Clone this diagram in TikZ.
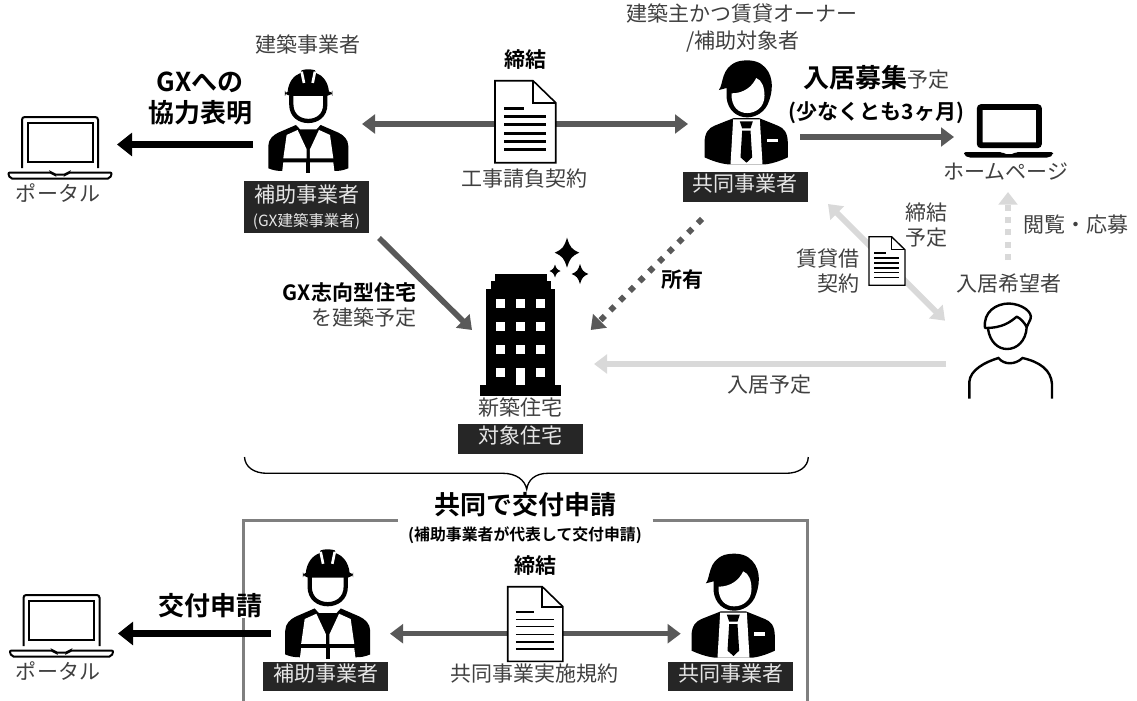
\documentclass[tikz,border=0pt]{standalone}
\usepackage{fontspec}
\setmainfont{Noto Sans CJK JP}[BoldFont={Noto Sans CJK JP Bold}]
\usetikzlibrary{arrows.meta,positioning}
\definecolor{txt}{HTML}{404040}
\definecolor{boxdark}{HTML}{262626}
\definecolor{boxtxt}{HTML}{E6E6E6}
\definecolor{arrowgray}{HTML}{595959}
\definecolor{arrowlight}{HTML}{D9D9D9}
\definecolor{framegray}{HTML}{7F7F7F}
\newcommand{\fsN}{\fontsize{15.75pt}{19pt}\selectfont}
\newcommand{\fsB}{\fontsize{19.5pt}{23pt}\selectfont\bfseries}
\newcommand{\fsM}{\fontsize{15.75pt}{19pt}\selectfont\bfseries}
\newcommand{\fsS}{\fontsize{11.6pt}{14pt}\selectfont}
\newcommand{\docicon}[5]{% x, y, scale, outline lw, text lw
  \begin{scope}[shift={(#1,#2)},scale=#3]
    \filldraw[fill=white,draw=black,line width=#4,line join=miter] (0,0) -- (38,0) -- (60.7,22) -- (60.7,82) -- (0,82) -- cycle;
    \draw[black,line width=#4] (38,0) -- (38,22) -- (60.7,22);
    \draw[black,line width=#5] (9,27.6) -- (29,27.6);
    \foreach \yy in {36,44,52.6,60.6,68.6}{\draw[black,line width=#5] (9,\yy) -- (51,\yy);}
  \end{scope}}
\newcommand{\sparkle}[4]{%
  \fill[black] (#1,#2-#4) .. controls (#1+.25*#3,#2-.35*#4) and (#1+.35*#3,#2-.25*#4) .. (#1+#3,#2)
   .. controls (#1+.35*#3,#2+.25*#4) and (#1+.25*#3,#2+.35*#4) .. (#1,#2+#4)
   .. controls (#1-.25*#3,#2+.35*#4) and (#1-.35*#3,#2+.25*#4) .. (#1-#3,#2)
   .. controls (#1-.35*#3,#2-.25*#4) and (#1-.25*#3,#2-.35*#4) .. cycle;}
\tikzset{
  lbl/.style={inner sep=0pt,outer sep=0pt,text=txt,font=\fsN,text height=0.8em,text depth=0.1em,align=center},
  lblb/.style={lbl,text=black,font=\fsB},
  lblm/.style={lbl,text=black,font=\fsM},
  darkbox/.style={fill=boxdark,text=boxtxt,font=\fsN,inner sep=0pt,outer sep=0pt,minimum width=93.75pt,minimum height=22pt,align=center,text height=0.8em,text depth=0.1em},
  arblack/.style={black,line width=5.25pt,-{Triangle[length=11.25pt,width=17pt]}},
  argray/.style={arrowgray,line width=4pt,{Triangle[length=9.75pt,width=14pt]}-{Triangle[length=9.75pt,width=14pt]}},
  argrayone/.style={arrowgray,line width=4.2pt,-{Triangle[length=9.75pt,width=14pt]}},
  arlight/.style={arrowlight,line width=4.4pt,-{Triangle[length=9.75pt,width=14pt]}},
  arlighttwo/.style={arrowlight,line width=4.4pt,{Triangle[length=9.75pt,width=14pt]}-{Triangle[length=9.75pt,width=14pt]}},
  laptopthin/.pic={
    \draw[black,line width=1.5pt,rounded corners=2pt] (22,168) -- (22,117) -- (98,117) -- (98,168);
    \draw[black,line width=1.5pt] (27.5,123) rectangle (92.5,162);
    \draw[black,line width=1.5pt,rounded corners=1.5pt] (8,172.5) -- (52,172.5) -- (53.5,174.5) -- (66.5,174.5) -- (68,172.5) -- (112,172.5) -- (110,178.5) -- (10,178.5) -- cycle;
  },
  worker/.pic={
    \begin{scope}[shift={(-175,-25)}]
      \fill[black] (113,92) .. controls (116,62) and (132,43) .. (152,36) -- (155,28) .. controls (165,24) and (185,24) .. (195,28) -- (198,36) .. controls (218,43) and (234,62) .. (237,92) -- cycle;
      \fill[black,rounded corners=4pt] (105,89) rectangle (247,105);
      \draw[white,line width=2pt] (155,32) -- (162,66);
      \draw[white,line width=2pt] (195,32) -- (188,66);
      \draw[black,line width=3.2pt] (124,103) -- (124,130) .. controls (124,165) and (150,180) .. (175,180) .. controls (200,180) and (226,165) .. (226,130) -- (226,103);
      \fill[black] (55,322) -- (55,255) .. controls (55,235) and (70,222) .. (85,215) -- (138,192) -- (150,205) -- (200,205) -- (212,192) -- (265,215) .. controls (280,222) and (295,235) .. (295,255) -- (295,322) .. controls (280,328) and (270,330) .. (255,330) -- (97,330) .. controls (80,330) and (70,328) .. cycle;
      \fill[white] (110,222) -- (143,207) -- (170,265) -- (170,292) -- (100,292) -- cycle;
      \fill[white] (240,222) -- (207,207) -- (180,265) -- (180,292) -- (250,292) -- cycle;
      \fill[white] (100,304) -- (170,304) -- (170,336) -- (96,336) -- cycle;
      \fill[white] (180,304) -- (250,304) -- (254,336) -- (180,336) -- cycle;
      \fill[black] (169,300) rectangle (181,336);
    \end{scope}
  },
  manicon/.pic={
    \begin{scope}[shift={(-165,-30)}]
      \fill[black] (85,118) .. controls (100,100) and (90,52) .. (140,33) .. controls (165,26) and (195,28) .. (212,40) .. controls (248,65) and (250,110) .. (236,150) .. controls (225,185) and (195,200) .. (170,200) .. controls (140,200) and (112,180) .. (108,140) -- (108,112) -- cycle;
      \fill[white] (123,128) .. controls (160,128) and (185,108) .. (197,82) .. controls (215,88) and (222,112) .. (222,135) .. controls (222,170) and (195,187) .. (170,187) .. controls (145,187) and (122,170) .. (123,128) -- cycle;
      \fill[black] (42,278) .. controls (42,245) and (55,232) .. (72,225) -- (130,202) -- (205,202) -- (262,225) .. controls (280,232) and (292,245) .. (292,278) -- (292,320) .. controls (275,328) and (250,338) .. (225,341) -- (112,341) .. controls (85,338) and (60,328) .. (42,320) -- cycle;
      \fill[white] (128,206) -- (208,206) -- (216,341) -- (120,341) -- cycle;
      \fill[black] (148,212) -- (187,212) -- (180,233) -- (155,233) -- cycle;
      \fill[black] (155,240) -- (180,240) -- (185,320) -- (168,336) -- (150,320) -- cycle;
      \fill[white] (228,265) rectangle (262,275);
    \end{scope}
  },
}
\begin{document}
\begin{tikzpicture}[x=0.75pt,y=-0.75pt,line cap=butt]
\path[use as bounding box] (0,0) rectangle (1137,700);

% title (cut by the page edge)
\node[lblb] (title) at (138,-8) {交付申請イメージ};

% frame
\coordinate (fTL) at (397.7,520.7);
\coordinate (fA) at (243.7,520.7);
\coordinate (fB) at (243.7,705);
\coordinate (fC) at (652.7,520.7);
\coordinate (fD) at (807.7,520.7);
\coordinate (fE) at (807.7,705);
\draw[framegray,line width=2pt] (fTL) -- (fA) -- (fB);
\draw[framegray,line width=2pt] (fC) -- (fD) -- (fE);

% brace
\coordinate (brL) at (244.5,457);
\coordinate (brR) at (808.3,457);
\coordinate (brM) at (526.7,489.3);
\draw[black,line width=1pt] (brL) .. controls (245,467) and (254,473.3) .. (267,473.3) -- (503,473.3) .. controls (516,473.3) and (525,480) .. (brM) .. controls (528,480) and (535,473.3) .. (548,473.3) -- (786,473.3) .. controls (799,473.3) and (808,467) .. (brR);

% connector end points
\coordinate (a1s) at (253,144.5);  \coordinate (a1e) at (117,144.5);
\coordinate (a2s) at (362,124);    \coordinate (a2e) at (688,124);
\coordinate (a3s) at (800,137);    \coordinate (a3e) at (954,137);
\coordinate (a4s) at (1008,260);   \coordinate (a4e) at (1008,192);
\coordinate (a5s) at (828,204);    \coordinate (a5e) at (945,320.7);
\coordinate (a6s) at (946,364);    \coordinate (a6e) at (594,364);
\coordinate (a7s) at (379,238);    \coordinate (a7e) at (472,330);
\coordinate (a8s) at (702,219);    \coordinate (a8e) at (590.7,330);
\coordinate (a9s) at (270.7,633.5);\coordinate (a9e) at (118,633.5);
\coordinate (a10s) at (390,633.7); \coordinate (a10e) at (680.7,633.7);

\draw[argray] (a2s) -- (a2e);
\draw[argray] (a10s) -- (a10e);
\draw[argrayone] (a3s) -- (a3e);
\draw[argrayone] (a7s) -- (a7e);
\draw[arrowgray,line width=4.4pt,dash pattern=on 4.4pt off 5.9pt,-{Triangle[length=9.75pt,width=14pt]}] (a8s) -- (a8e);
\draw[arlighttwo] (a5s) -- (a5e);
\draw[arlight] (a6s) -- (a6e);
\draw[arrowlight,line width=5pt,dash pattern=on 4.6pt off 4.6pt,-{Triangle[length=9.5pt,width=14pt]}] (a4s) -- (a4e);

% documents
\docicon{495}{80.7}{1}{1.2pt}{2.2pt}
\docicon{869}{236.7}{0.593}{1pt}{1.2pt}
\docicon{507.7}{586.7}{0.91}{1.2pt}{1.1pt}

% laptops
\pic at (0,0) {laptopthin};
\pic at (1.5,478) {laptopthin};
% thick laptop (home page)
\draw[black,line width=4.4pt,rounded corners=1.5pt] (979.7,107) rectangle (1039,145.3);
\fill[black,rounded corners=1.5pt] (964,152) -- (1002,152) -- (1004,154) -- (1014,154) -- (1016,152) -- (1053,152) -- (1053,155) -- (1049,157.5) -- (968,157.5) -- (964,155) -- cycle;

% people
\pic[scale=0.3333] at (308.3,69.3) {worker};
\pic[scale=0.354] at (327.7,549.3) {worker};
\pic[scale=0.3333] at (745.5,60.7) {manicon};
\pic[scale=0.3333] at (732.5,554) {manicon};

% applicant (outline)
\draw[black,line width=1.8pt,line join=round] (985,328) .. controls (983,312) and (996,303.5) .. (1009,303.5) .. controls (1022,304) and (1033,312) .. (1030.5,319) -- (1026.7,327) .. controls (1024,322) and (1020,318) .. (1016.7,316.7) .. controls (1010,322) and (1003,328) .. cycle;
\draw[black,line width=1.8pt] (988,329) .. controls (990,342) and (998,349) .. (1007,349) .. controls (1017,349) and (1026,341) .. (1026.7,327);
\draw[black,line width=1.8pt] (969.3,398.5) -- (969.3,382) .. controls (970,370) and (985,362) .. (998.5,358) .. controls (1004,365) and (1015,365) .. (1022.5,358) .. controls (1040,362) and (1051,370) .. (1052,384) -- (1052,398.5);

% building
\fill[black] (480,385) rectangle (560.7,395.7);
\fill[black] (486,289.3) rectangle (555,385);
\fill[black] (490.7,280.7) rectangle (550.7,289.3);
\fill[black] (495,274) rectangle (546.7,280.7);
\foreach \yy in {299,322,345}{
  \foreach \xx in {496,516,536.3}{\fill[white] (\xx,\yy) rectangle ++(8.8,8.7);}
}
\fill[white] (496,368.3) rectangle ++(8.8,8.7);
\fill[white] (536.3,368.3) rectangle ++(8.8,8.7);
\fill[white] (516,368.3) rectangle (524.8,385);
\sparkle{567}{252.7}{12.3}{15}
\sparkle{555}{271}{5.5}{6.5}
\sparkle{580}{274}{8.3}{10}

% dark boxes
\node[darkbox,minimum height=39.5pt] (boxH1) at (306.5,207) {};
\node[lbl,text=boxtxt] (boxH1a) at (306.5,197.5) {補助事業者};
\node[lbl,text=boxtxt,font=\fsS] (boxH1b) at (306.5,221.5) {(GX建築事業者)};
\node[darkbox] (boxK1) at (745.2,187) {共同事業者};
\node[darkbox] (boxT) at (520.5,439) {対象住宅};
\node[darkbox] (boxH2) at (325.8,676.5) {補助事業者};
\node[darkbox] (boxK2) at (730.8,676.5) {共同事業者};

% labels
\node[lbl] (l1) at (308,48) {建築事業者};
\node[lblb] (l2) at (200,87) {GXへの};
\node[lblb] (l3) at (200,118) {協力表明};
\node[lbl] (l4) at (58,196.5) {ポータル};
\node[lbl] (l5) at (58,675) {ポータル};
\node[lblm] (l6) at (525,62.7) {締結};
\node[lbl] (l7) at (524.5,181.7) {工事請負契約};
\node[lbl] (l8) at (741.5,17.3) {建築主かつ賃貸オーナー};
\node[lbl] (l9) at (743,44) {/補助対象者};
\node[lblb] (l10) at (876.5,83) {入居募集{\fsN\mdseries\color{txt}予定}};
\node[lblm] (l11) at (876.5,115) {(少なくとも3ヶ月)};
\node[lbl] (l12) at (1006,175) {ホームページ};
\node[lbl] (l13) at (926,216) {締結};
\node[lbl] (l14) at (926,241) {予定};
\node[lbl] (l15) at (1076,228) {閲覧・応募};
\node[lbl,anchor=east] (l16) at (859,261.7) {賃貸借};
\node[lbl,anchor=east] (l17) at (859,287) {契約};
\node[lbl] (l18) at (1008.7,287) {入居希望者};
\node[lbl] (l19) at (769,388) {入居予定};
\node[lblm,anchor=east] (l20) at (416,296) {GX志向型住宅};
\node[lbl,anchor=east] (l21) at (416,321) {を建築予定};
\node[lblm] (l22) at (682.5,283) {所有};
\node[lbl] (l23) at (520.5,410.7) {新築住宅};
\node[lblb] (l24) at (525,510) {共同で交付申請};
\node[lblm,font=\fontsize{11.9pt}{14pt}\selectfont\bfseries] (l25) at (525,536) {(補助事業者が代表して交付申請)};
\node[lblm] (l26) at (535,569.3) {締結};
\node[lbl] (l27) at (534.7,676.7) {共同事業実施規約};
\node[lblb,fill=white,inner ysep=1pt] (l28) at (210.5,610.7) {交付申請};

\draw[arblack] (a1s) -- (a1e);
\draw[arblack] (a9s) -- (a9e);
\end{tikzpicture}
\end{document}
